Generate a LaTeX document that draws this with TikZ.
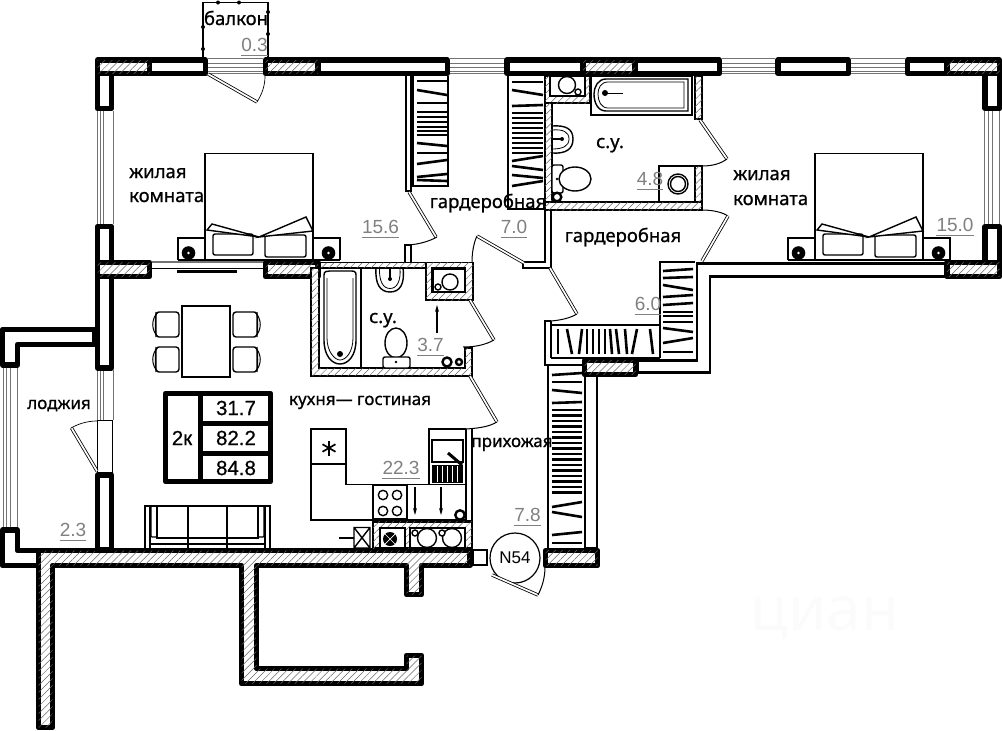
\documentclass[tikz,border=0pt]{standalone}
\usepackage{fontspec}
\setmainfont{Noto Sans}
\newfontfamily\roomfont[FakeBold=0.8]{Noto Sans}
\newfontfamily\numfont{Liberation Sans}
\newfontfamily\cellfont[FakeBold=0.6]{Liberation Sans}
\usetikzlibrary{positioning,calc,patterns.meta,arrows.meta}
\tikzstyle{wallw}=[draw,line width=5.4pt,line join=round,fill=white]
\tikzstyle{wallh}=[draw,line width=5.4pt,line join=round,fill=white,postaction={pattern={Lines[angle=45,distance=5pt,line width=.5pt]},pattern color=black!60}]
\tikzstyle{thinh}=[draw,line width=1.5pt,fill=white,postaction={pattern={Lines[angle=45,distance=5pt,line width=.5pt]},pattern color=black!60}]
\tikzstyle{wline}=[draw,line width=2.8pt,line join=miter]
\tikzstyle{glass}=[draw=black!55,line width=.8pt]
\tikzstyle{fur}=[draw,line width=1.4pt]
\tikzstyle{hanger}=[draw,line width=2.6pt]
\tikzstyle{leaf}=[draw,line width=.8pt,double,double distance=1.7pt]
\tikzstyle{swing}=[draw,line width=.7pt]
\tikzstyle{roomtxt}=[inner sep=0pt,font=\roomfont\fontsize{18.5}{20}\selectfont]
\tikzstyle{smalltxt}=[inner sep=0pt,font=\roomfont\fontsize{17}{20}\selectfont]
\tikzstyle{areatxt}=[inner sep=0pt,text=black!50,font=\numfont\fontsize{19}{20}\selectfont]
\tikzstyle{arealine}=[draw=black!50,line width=.7pt]
\tikzstyle{celltxt}=[inner sep=0pt,font=\cellfont\fontsize{20.5}{22}\selectfont]
\tikzstyle{balldot}=[fill,circle,inner sep=0pt,minimum size=5pt]
\begin{document}
\begin{tikzpicture}[x=1pt,y=-1pt]
	\useasboundingbox (0,0) rectangle (1002,731);
	
	\node[inner sep=0pt,text=black!1.5,font=\fontsize{62}{62}\selectfont] (wmark) at (825,618) {циан};
	
	% glass
	\foreach \y in {58,63,67,71,73.5}{
		\draw[glass] (450,\y) -- (505,\y);
		\draw[glass] (722,\y) -- (775,\y);
		\draw[glass] (851,\y) -- (905,\y);
		\draw[glass] (208,\y) -- (263,\y);
	}
	\foreach \x in {97.5,100.5,103.5,113}{
		\draw[glass] (\x,111) -- (\x,224);
		\draw[glass] (\x,370) -- (\x,420);
	}
	\foreach \x in {984,988,992,999}
		\draw[glass] (\x,111) -- (\x,224);
	\foreach \x in {3.5,6.5,10,17}
		\draw[glass] (\x,367) -- (\x,528);
	\draw[fur,line width=1pt] (97.5,420) rectangle (112,473);
	\draw[glass,line width=1.2pt] (152,262) -- (263,262);
	\draw[glass,black,line width=1.2pt] (152,268.5) -- (263,268.5);
	\draw[line width=3pt] (177,271) -- (237,271);
	
	% outer walls
	\draw[wallw] (2.5,329.5) -- (95,329.5) -- (95,344.5) -- (17.5,344.5) -- (17.5,365) -- (2.5,365) -- cycle;
	\draw[wallw] (2.5,530) -- (17.5,530) -- (17.5,550.5) -- (38.5,550.5) -- (38.5,565.5) -- (2.5,565.5) -- cycle;
	\draw[wallh] (470,550.5) -- (38.5,550.5) -- (38.5,727.5) -- (52.5,727.5) -- (52.5,565.5) -- (241.5,565.5) -- (241.5,683.5) -- (421.5,683.5) -- (421.5,655.5) -- (406.5,655.5) -- (406.5,668.5) -- (256.5,668.5) -- (256.5,565.5) -- (406.5,565.5) -- (406.5,594.5) -- (421.5,594.5) -- (421.5,565.5) -- (470,565.5) -- cycle;
	\draw[wline,fill=white] (697,263.5) -- (945,263.5) -- (945,276.5) -- (710,276.5) -- (710,372.5) -- (638,372.5) -- (638,360.5) -- (697,360.5) -- cycle;
	\draw[wline,fill=white] (585,374) rectangle (597,548);
	\foreach \xa/\ya/\xb/\yb in {149.5/60/205.5/73.5,318/60/447.5/73.5,97.5/73.5/111.5/108.5,97.5/226.5/111.5/262.5,97.5/276.5/111.5/368,97.5/475/111.5/550,507/60/583/73.5,635/60/719.5/73.5,778/60/848.5/73.5,907.5/60/947/73.5,985/73.5/999.5/108.5,985/226.5/999.5/262.5}
		\draw[wallw] (\xa,\ya) rectangle (\xb,\yb);
	\foreach \xa/\ya/\xb/\yb in {97.5/60/149.5/73.5,265.5/60/318/73.5,97.5/262.5/149.5/276.5,265.5/262.5/318/276.5,583/60/635/73.5,947/60/999.5/73.5,947/262.5/999.5/276.5,545.5/550.5/597.5/565.5,584.5/360.5/635.5/374.5}
		\draw[wallh] (\xa,\ya) rectangle (\xb,\yb);
	\draw[fur] (473,550) rectangle (487,565);
	
	% balcony
	\draw[fur] (203,57) -- (203,2.5) -- (268,2.5) -- (268,57);
	\foreach \x/\y in {218/2.5,239/2.5,268/12,268/34,203/27,203/49}
		\node[balldot,minimum size=4pt] at (\x,\y) {};
	\draw[leaf] (208,74) -- (257,102);
	\draw[swing] (257,102) .. controls (262,94) and (265,86) .. (265,76);
	
	% bedroom 1
	\draw[fur] (406,76) -- (406,191) -- (411,191) -- (411,76);
	\draw[fur] (413,76) -- (413,186) -- (448,186) -- (448,76);
	\foreach \ya/\yb in {81/81,90/95,103/103,112/112,117/117,122/122,127/127,131/131,135/135,143/146,153/153,164/160,177/174,180/181}
		\draw[hanger] (417,\ya) -- (447,\yb);
	\draw[leaf] (409,192) -- (436,237);
	\draw[swing,line width=1pt] (437,237) .. controls (428,242) and (416,245) .. (405,245);
	\draw[fur] (405,262) -- (405,245) -- (411,245) -- (411,262);
	
	% beds
	\foreach \x in {0,610}{
		\draw[fur] (205+\x,260) -- (205+\x,153.5) -- (313+\x,153.5) -- (313+\x,260);
		\draw[fur] (205+\x,238) -- (178+\x,238) -- (178+\x,260);
		\draw[fur] (313+\x,238) -- (340+\x,238) -- (340+\x,260);
		\draw[fur,fill=white,rounded corners=2pt] (213+\x,234) rectangle (253+\x,255);
		\draw[fur,fill=white,rounded corners=2pt] (265+\x,235) rectangle (306+\x,257);
		\draw[fur,fill=white] (207+\x,230) -- (212+\x,224) -- (259+\x,237) -- cycle;
		\draw[fur,fill=white] (259+\x,237) -- (306+\x,217) -- (313+\x,231) -- cycle;
		\draw[fur,line width=2pt] (178+\x,260) -- (340+\x,260);
		\fill (188.5+\x,253) circle (6.8pt);
		\fill (328.5+\x,253) circle (6.8pt);
		\fill[white] (188.5+\x,253) circle (1.3pt);
		\fill[white] (328.5+\x,253) circle (1.3pt);
	}
	
	% bathroom left
	\draw[thinh] (320,262.5) -- (465,262.5) -- (465,268) -- (319,268) -- (319,368) -- (465,368) -- (465,348) -- (472,348) -- (472,376) -- (311,376) -- (311,268) -- (320,268) -- cycle;
	\draw[thinh] (426,262.5) rectangle (473,300);
	\draw[draw,line width=2.5pt,fill=white] (432.5,268.5) rectangle (465,292);
	\draw[fur] (450,282) circle (8pt);
	\draw[fur] (438,287) circle (3pt);
	\draw[leaf] (470,300) -- (494,340);
	\draw[swing,line width=1pt] (494,340) .. controls (485,345) and (475,347) .. (463,347);
	\draw[fur] (361,268) -- (361,368);
	\draw[fur] (324,275) .. controls (324,271) and (327,271) .. (330,271) -- (350,271) .. controls (354,271) and (356,271) .. (356,275) -- (356,340) .. controls (356,356) and (348,364) .. (340,364) .. controls (332,364) and (324,356) .. (324,340) -- cycle;
	\draw[line width=.8pt] (327,278) -- (327,338) .. controls (327,352) and (335,360) .. (340,360) .. controls (346,360) and (353,352) .. (353,338) -- (353,278);
	\fill (340,354) circle (3pt);
	\draw[fur] (376,268) .. controls (375,284) and (380,292) .. (390,292) .. controls (400,292) and (405,284) .. (403,268);
	\draw[line width=.8pt] (379.5,268) .. controls (379,281) and (383,288.5) .. (390,288.5) .. controls (397,288.5) and (401,281) .. (400,268);
	\draw[fur] (390,268) -- (390,278);
	\fill (390,279) circle (2pt);
	\draw[fur] (396,343) ellipse (11pt and 15pt);
	\draw[fur,fill=white,rounded corners=2pt] (383,357) rectangle (410,368);
	\fill (396,362) circle (1.3pt);
	\draw[line width=1.2pt,-{Stealth[length=7pt,width=4pt]}] (437,333) -- (437,305);
	\draw[line width=2.4pt] (447,362) circle (4.5pt);
	\draw[line width=2.4pt] (459,362) circle (3pt);
	
	% kitchen
	\draw[leaf] (470,376) -- (497,422);
	\draw[swing,line width=1pt] (497,422) .. controls (490,426) and (482,428) .. (466,429);
	\draw[fur] (466,429) -- (466,548);
	\draw[fur] (472,429) -- (472,548);
	\draw[fur] (311,429) rectangle (346,464);
	\foreach \a in {30,90,150}
		\draw[line width=1.7pt] (329,448) ++(\a:7.5) -- ++(\a+180:15);
	\draw[fur] (311,464) -- (311,520) -- (372,520);
	\draw[fur] (346,464) -- (346,484.5) -- (466,484.5);
	\draw[fur] (429,484) -- (429,429) -- (466,429);
	\draw[fur] (432,440) rectangle (463,462);
	\fill (432,465) rectangle (463,483);
	\foreach \x in {437,442,447,452,457}
		\draw[white,line width=.4pt] (\x,466) -- (\x,482);
	\draw[line width=3pt] (448,453) -- (462,465);
	\draw[line width=2pt,fill=white] (373,485) rectangle (407,519);
	\foreach \x/\y in {383/495,397/495,383/511,397/511}
		\draw[fur] (\x,\y) circle (4.7pt);
	\draw[fur] (407,520) -- (466,520);
	\foreach \x in {415,441}
		\draw[line width=1.1pt,-{Stealth[length=7pt,width=4pt]}] (\x,487) -- (\x,515);
	\draw[line width=2.4pt,fill=white] (460,515) circle (4.7pt);
	\draw[thinh,line width=2.2pt] (373,521.5) rectangle (472,548);
	\draw[line width=2.4pt,fill=white] (380,528) rectangle (405,548);
	\fill (390,539) circle (7pt);
	\draw[white,line width=.7pt] (385,534) -- (395,544) (385,544) -- (395,534);
	\draw[line width=2pt,fill=white] (410,528) rectangle (465,548);
	\foreach \x in {427,452}
		\draw[fur] (\x,538) circle (9.5pt);
	\foreach \x in {415,442}
		\draw[fur,fill=white] (\x,533) circle (3pt);
	\draw[fur] (354,527.5) rectangle (370,548) (354,527.5) -- (370,548) (354,548) -- (370,527.5);
	\draw[fur] (339,538) -- (354,538);
	
	% dining and sofa
	\draw[fur] (182,306) rectangle (230,377);
	\foreach \y in {312,347}{
		\draw[fur,rounded corners=3pt] (156,\y) rectangle (179,\y+25);
		\draw[line width=1pt] (158,\y) .. controls (151,\y+7) and (151,\y+18) .. (158,\y+25);
		\draw[line width=1pt] (156,\y) .. controls (155,\y+8) and (155,\y+17) .. (156,\y+25);
		\draw[fur,rounded corners=3pt] (233,\y) rectangle (257,\y+25);
		\draw[line width=1pt] (255,\y) .. controls (262,\y+7) and (262,\y+18) .. (255,\y+25);
		\draw[line width=1pt] (257,\y) .. controls (258,\y+8) and (258,\y+17) .. (257,\y+25);
	}
	\draw[fur] (145,548) -- (145,506) -- (270,506) -- (270,548);
	\draw[fur] (150,506) -- (150,548) (265,506) -- (265,548);
	\draw[fur,rounded corners=1pt] (151,506) rectangle (157,537);
	\draw[fur,rounded corners=1pt] (258,506) rectangle (264,537);
	\draw[fur] (157,506) -- (157,538) -- (258,538) -- (258,506);
	\draw[fur] (188,506) -- (188,548) (227,506) -- (227,548);
	\draw[fur] (151,544) -- (264,544);
	
	% loggia door
	\draw[leaf] (97,471) -- (71.5,428);
	\draw[swing] (71,428) .. controls (78,424) and (87,421) .. (97,421);
	
	% info table
	\draw[wallw] (165.5,393.5) rectangle (270.5,481.5);
	\draw[line width=5pt] (200.5,393.5) -- (200.5,481.5);
	\draw[line width=5pt] (200.5,423) -- (270.5,423);
	\draw[line width=5pt] (200.5,453) -- (270.5,453);
	\node[celltxt] (rooms) at (182,438) {2к};
	\node[celltxt] (living) at (236,408) {31.7};
	\node[celltxt] (total) at (236,438) {82.2};
	\node[celltxt] (full) at (236,468) {84.8};
	
	% bathroom right
	\draw[fur] (508,76) -- (508,209) -- (545,209);
	\foreach \ya/\yb in {82/82,90/95,106/105,113/113,118/118,123/123,128/128,133/133,138/138,143/143,148/148,153/153,161/156,166/170,175/178,186/181}
		\draw[hanger] (512,\ya) -- (543,\yb);
	\draw[thinh] (545,76) rectangle (590,103);
	\draw[thinh] (545,103) rectangle (552,210);
	\draw[thinh] (545,202) rectangle (702,210);
	\draw[thinh] (695,76) rectangle (702,119);
	\draw[thinh] (695,166) rectangle (702,202);
	\draw[line width=2.4pt,fill=white] (550,76) rectangle (585,96);
	\draw[fur] (567,85) circle (8.5pt);
	\draw[fur] (578,92) circle (3pt);
	\draw[fur] (591,76) rectangle (692,115);
	\draw[fur] (688,79) -- (606,79) .. controls (598,79) and (594,87) .. (594,94) .. controls (594,103) and (598,111) .. (606,111) -- (688,111) -- cycle;
	\draw[line width=.8pt] (684,82) -- (608,82) .. controls (601,82) and (598,88) .. (598,94) .. controls (598,101) and (601,108) .. (608,108) -- (684,108) -- cycle;
	\fill (605,93) circle (3pt);
	\draw[line width=1pt] (605,93) -- (623,93);
	\draw[fur] (552,126) .. controls (566,125) and (573,129) .. (573,139) .. controls (573,149) and (566,154) .. (552,153);
	\draw[line width=.8pt] (552,130) .. controls (563,129) and (569,132) .. (569,139) .. controls (569,146) and (563,149) .. (552,149);
	\draw[line width=1.8pt] (553,139) -- (563,139);
	\fill (562,139) circle (2pt);
	\draw[fur,fill=white,rounded corners=2pt] (552,165) rectangle (563,193);
	\draw[fur,fill=white] (575,179) ellipse (16pt and 12pt);
	\fill (557,179) circle (1.3pt);
	\draw[line width=2.4pt,fill=white] (557,197) circle (4.3pt);
	\draw[fur] (659,202) -- (659,166) -- (695,166);
	\draw[fur] (678,184) circle (10pt);
	\draw[fur] (678,184) circle (7.5pt);
	\draw[leaf] (700,120) -- (727,159);
	\draw[swing,line width=1pt] (727,159) .. controls (720,164) and (712,166) .. (702,166);
	
	% wardrobes
	\draw[fur] (545,210) -- (545,262) -- (523,262) -- (523,268) -- (551,268) -- (551,210);
	\draw[leaf] (524,263) -- (477,236);
	\draw[swing,line width=1pt] (477,236) .. controls (474,242) and (472,252) .. (472,262);
	\draw[swing,line width=1pt] (702,210) .. controls (712,210) and (722,212) .. (728,216);
	\draw[leaf] (728,216) -- (702,261);
	\draw[fur] (660,358) -- (660,262) -- (695,262);
	\foreach \ya/\yb in {271/269,278/277,285/290,297/295,305/303,312/312,316/316,322/322,328/332,343/338,352/352}
		\draw[hanger] (663,\ya) -- (693,\yb);
	\draw[fur] (551,325) -- (660,325);
	\draw[fur] (551,358) -- (660,358);
	\draw[fur] (551,321) -- (545,321) -- (545,365) -- (584,365);
	\draw[fur] (551,321) -- (551,358);
	\foreach \xa/\xb in {558/558,567/572,582/579,587/587,593/593,599/599,605/605,610/612,616/619,625/627,637/632,650/653}
		\draw[hanger] (\xa,329) -- (\xb,354);
	\draw[leaf] (550,268) -- (577,314);
	\draw[swing,line width=1pt] (577,314) .. controls (570,318) and (562,320) .. (551,321);
	\draw[fur] (548,365) -- (548,548);
	\foreach \ya/\yb in {375/373,382/382,390/393,403/402,507/502,512/517,535/532,543/543}
		\draw[hanger] (552,\ya) -- (582,\yb);
	\foreach \y in {410,415.5,...,496}
		\draw[hanger] (552,\y) -- (582,\y);
	
	% entrance
	\node[circle,draw,line width=1.2pt,fill=white,minimum size=50pt,inner sep=0pt,font=\numfont\fontsize{17}{18}\selectfont] (n54) at (515,558) {N54};
	\draw[leaf] (492,575) -- (538,595);
	\draw[swing,line width=1pt] (538,595) .. controls (542,587) and (545,578) .. (545,567);
	
	% names
	\node[roomtxt,anchor=base west] (bed1a) at (129,178) {жилая};
	\node[roomtxt,anchor=base west] (bed1b) at (129,202) {комната};
	\node[roomtxt,anchor=base west] (bed2a) at (733,180) {жилая};
	\node[roomtxt,anchor=base west] (bed2b) at (733,205) {комната};
	\node[roomtxt,anchor=base] (balc) at (236,25) {балкон};
	\node[roomtxt,anchor=base] (gard1) at (488,208) {гардеробная};
	\node[roomtxt,anchor=base] (gard2) at (623,242) {гардеробная};
	\node[roomtxt,anchor=base] (wc1) at (610,148) {с.у.};
	\node[roomtxt,anchor=base] (wc2) at (383,323) {с.у.};
	\node[smalltxt,anchor=base] (kitch) at (360,405) {кухня— гостиная};
	\node[smalltxt,anchor=base] (hall) at (512,447) {прихожая};
	\node[smalltxt,anchor=base] (logg) at (59,409) {лоджия};
	
	% areas
	\node[areatxt] (a1) at (254.5,45) {0.3};
	\node[areatxt] (a2) at (380.5,227) {15.6};
	\node[areatxt] (a3) at (514,227) {7.0};
	\node[areatxt] (a4) at (650,179) {4.8};
	\node[areatxt] (a5) at (955,225) {15.0};
	\node[areatxt] (a6) at (648,304) {6.0};
	\node[areatxt] (a7) at (430.5,345) {3.7};
	\node[areatxt] (a8) at (401,468) {22.3};
	\node[areatxt] (a9) at (527.5,515) {7.8};
	\node[areatxt] (a10) at (73,530) {2.3};
	\foreach \n in {a1,a2,a3,a4,a5,a6,a7,a8,a9,a10}
		\draw[arealine] ([yshift=-3.5pt]\n.south west) -- ([yshift=-3.5pt]\n.south east);
\end{tikzpicture}
\end{document}
